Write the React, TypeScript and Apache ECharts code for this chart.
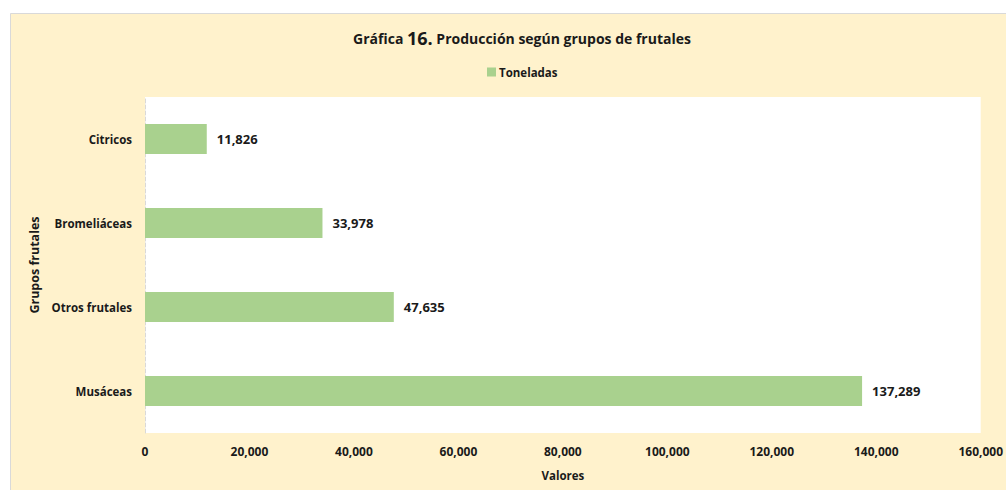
import React, { useEffect, useRef } from "react";
import * as echarts from "echarts";

const categories = ["Musáceas", "Otros frutales", "Bromeliáceas", "Citricos"];
const toneladas = [137289, 47635, 33978, 11826];
const xTicks = [0, 20000, 40000, 60000, 80000, 100000, 120000, 140000, 160000];

const FONT = "'Open Sans', 'Noto Sans', sans-serif";
const fmt = (v: number) => v.toLocaleString("en-US");

export default function App() {
  const ref = useRef<HTMLDivElement>(null);
  useEffect(() => {
    const chart = echarts.init(ref.current!, null, { renderer: "svg" });
    chart.setOption({
      animation: false,
      backgroundColor: "#ffffff",
      graphic: [
        {
          type: "rect",
          z: -10,
          shape: { x: 10.5, y: 13.5, width: 1010, height: 490 },
          style: { fill: "#FFF2CC", stroke: "#D9D9D9", lineWidth: 1 },
        },
      ],
      title: {
        text: "{a|Gráfica }{b|16.}{a| Producción según grupos de frutales}",
        left: 517,
        textAlign: "center",
        top: 24,
        textStyle: {
          rich: {
            a: { fontFamily: FONT, fontSize: 14, fontWeight: "bold", color: "#1a1a1a", letterSpacing: -0.2 },
            b: { fontFamily: FONT, fontSize: 18, fontWeight: "bold", color: "#1a1a1a" },
          },
        },
      },
      legend: {
        data: ["Toneladas"],
        top: 61,
        left: 482,
        itemWidth: 9,
        itemHeight: 9,
        itemGap: 4,
        icon: "rect",
        textStyle: { fontFamily: FONT, fontSize: 11.5, fontWeight: "bold", color: "#1a1a1a", padding: [0, 0, 0, -2] },
      },
      grid: {
        left: 145,
        top: 97,
        width: 840,
        height: 336,
        show: true,
        backgroundColor: "#ffffff",
        borderWidth: 0,
      },
      xAxis: {
        type: "value",
        min: xTicks[0],
        max: xTicks[xTicks.length - 1],
        interval: 20000,
        name: "Valores",
        nameLocation: "middle",
        nameGap: 36,
        nameTextStyle: { fontFamily: FONT, fontSize: 11.5, fontWeight: "bold", color: "#1a1a1a" },
        axisLine: { show: false },
        axisTick: { show: false },
        splitLine: { show: false },
        axisLabel: {
          fontFamily: FONT,
          fontSize: 12,
          fontWeight: "bold",
          color: "#1a1a1a",
          margin: 12,
          formatter: (v: number) => fmt(v),
        },
      },
      yAxis: {
        type: "category",
        data: categories,
        name: "Grupos frutales",
        nameLocation: "middle",
        nameGap: 103,
        nameRotate: 90,
        nameTextStyle: { fontFamily: FONT, fontSize: 12.5, fontWeight: "bold", color: "#1a1a1a" },
        axisLine: { show: true, lineStyle: { color: "#D9D9D9", type: "dashed", width: 1 } },
        axisTick: { show: false },
        axisLabel: {
          fontFamily: FONT,
          fontSize: 11.5,
          fontWeight: "bold",
          color: "#1a1a1a",
          margin: 13,
        },
      },
      series: [
        {
          name: "Toneladas",
          type: "bar",
          data: toneladas,
          barWidth: 30,
          itemStyle: { color: "#A9D18E" },
          label: {
            show: true,
            position: "right",
            distance: 10,
            fontFamily: FONT,
            fontSize: 13,
            fontWeight: "bold",
            color: "#1a1a1a",
            formatter: (p: any) => fmt(p.value),
          },
        },
      ],
    });
    return () => chart.dispose();
  }, []);
  return (
    <div
      ref={ref}
      style={{ position: "fixed", left: 0, top: 0, width: 1006, height: 490 }}
    />
  );
}
